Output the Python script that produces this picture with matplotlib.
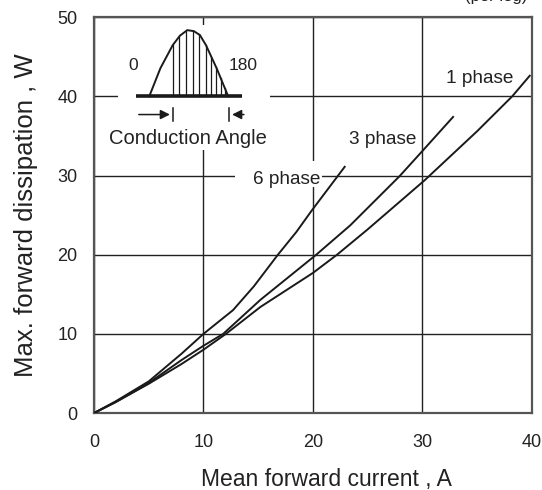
import matplotlib
matplotlib.use("Agg")
import matplotlib.pyplot as plt
import numpy as np
from matplotlib.patches import Rectangle

plt.rcParams["font.family"] = ["Liberation Sans", "DejaVu Sans"]

# curves (mean forward current A -> max forward dissipation W)
one_x = [0, 2, 5, 8, 10, 12.05, 15.2, 20, 22.2, 25, 30.2, 35, 38.2, 39.8]
one_y = [0, 1.4, 3.7, 6.2, 8.0, 10, 13.4, 17.7, 20, 23.2, 29.4, 35.6, 40, 42.6]

three_x = [0, 2, 5, 8, 10, 11.8, 15.2, 20.3, 23.4, 27.9, 30, 32.8]
three_y = [0, 1.4, 3.8, 6.7, 8.5, 10, 14.3, 20, 23.7, 29.9, 33.1, 37.4]

six_x = [0, 2, 5, 8, 10, 12.7, 14.6, 16.8, 18.5, 19.9, 22.3, 22.9]
six_y = [0, 1.5, 4.0, 7.5, 10, 13.0, 16.0, 20, 22.9, 25.6, 30, 31.1]

x_ticks = [0, 10, 20, 30, 40]
y_ticks = [0, 10, 20, 30, 40, 50]

# inset sketch of the conduction angle waveform (data coords of main axes)
wave_x = [5.05, 6.07, 7.19, 7.85, 8.52, 9.13, 9.68, 10.23, 11.21, 12.26]
wave_y = [40, 43.56, 46.46, 47.66, 48.36, 48.23, 47.73, 46.46, 43.52, 40]
hatch_x = [7.19, 7.79, 8.40, 9.01, 9.56, 10.23, 10.71, 11.14, 11.57, 11.94]

fig = plt.figure(figsize=(5.42, 4.90), dpi=100)
ax = fig.add_axes([0.1734, 0.157, 0.808, 0.808])

ax.set_xlim(0, 40)
ax.set_ylim(0, 50)
ax.set_xticks(x_ticks)
ax.set_yticks(y_ticks)
ax.tick_params(length=0, labelsize=13, colors="#222222")
ax.tick_params(axis="y", pad=12)
ax.tick_params(axis="x", pad=15)
ax.grid(True, color="#222222", linewidth=1.0)
ax.set_axisbelow(True)
for s in ax.spines.values():
    s.set_color("#555555")
    s.set_linewidth(1.6)

ax.set_xlabel("Mean forward current , A", fontsize=16.5, color="#222222")
ax.xaxis.set_label_coords(0.53, -0.14)
ax.set_ylabel("Max. forward dissipation , W", fontsize=18.5, color="#222222", labelpad=14)

# white areas hiding the grid behind the inset and the 6 phase label
ax.add_patch(Rectangle((2.19, 33.2), 13.88, 15.8, facecolor="white", edgecolor="none", zorder=1))
ax.add_patch(Rectangle((12.88, 28.5), 7.99, 3.3, facecolor="white", edgecolor="none", zorder=1))

for xs, ys in [(one_x, one_y), (three_x, three_y), (six_x, six_y)]:
    ax.plot(xs, ys, color="#1a1a1a", linewidth=1.4, zorder=3)

ax.text(35.2, 42.3, "1 phase", fontsize=13.7, ha="center", va="center", color="#222222")
ax.text(26.4, 34.5, "3 phase", fontsize=13.7, ha="center", va="center", color="#222222")
ax.text(17.6, 29.5, "6 phase", fontsize=13.7, ha="center", va="center", color="#222222")

# inset
ax.plot([3.84, 13.52], [40, 40], color="#1a1a1a", linewidth=2.6, zorder=3, solid_capstyle="butt")
ax.plot(wave_x, wave_y, color="#1a1a1a", linewidth=1.4, zorder=3)
for hx in hatch_x:
    ax.plot([hx, hx], [40, np.interp(hx, wave_x, wave_y)], color="#1a1a1a", linewidth=0.9, zorder=3)

ax.annotate("", xy=(7.19, 37.7), xytext=(3.84, 37.7),
            arrowprops=dict(arrowstyle="-|>", color="#1a1a1a", lw=1.1, mutation_scale=14), zorder=3)
ax.annotate("", xy=(12.36, 37.7), xytext=(13.95, 37.7),
            arrowprops=dict(arrowstyle="-|>", color="#1a1a1a", lw=1.1, mutation_scale=14), zorder=3)
ax.plot([7.19, 7.19], [36.9, 38.5], color="#1a1a1a", linewidth=1.1, zorder=3)
ax.plot([12.36, 12.36], [36.9, 38.5], color="#1a1a1a", linewidth=1.1, zorder=3)

ax.text(3.56, 43.9, "0", fontsize=12.5, ha="center", va="center", color="#222222")
ax.text(13.6, 43.85, "180", fontsize=12.5, ha="center", va="center", color="#222222")
ax.text(8.58, 34.7, "Conduction Angle", fontsize=14.5, ha="center", va="center", color="#222222")

fig.text(0.858, 1 - 0.5 / 490, "(per leg)", fontsize=12, ha="left", va="baseline", color="#222222")

fig.savefig("out.png", dpi=100)
